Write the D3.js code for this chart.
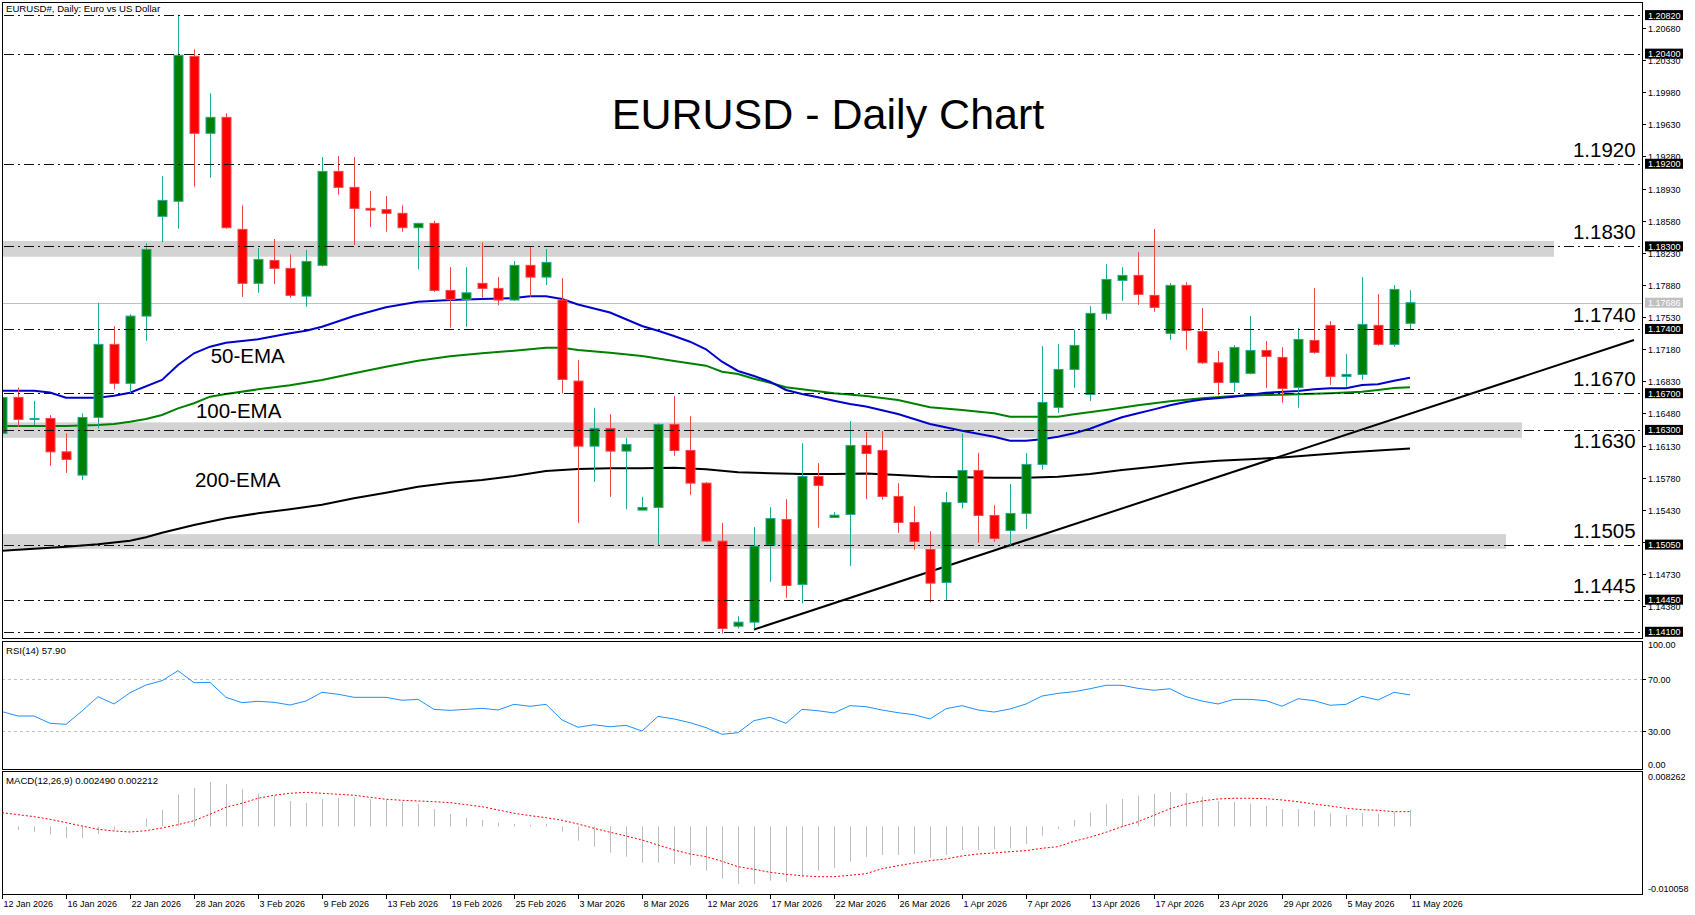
<!DOCTYPE html>
<html lang="en">
<head>
  <meta charset="UTF-8">
  <title>EURUSD - Daily Chart</title>
  <script src="https://cdnjs.cloudflare.com/ajax/libs/d3/7.8.5/d3.min.js"></script>
  <style>
    body { margin: 0; background: #fff; }
    svg { display: block; font-family: "Liberation Sans", Arial, sans-serif; }
    .frame { fill: none; stroke: #000; stroke-width: 1px; shape-rendering: crispEdges; }
    .level { stroke: #111; stroke-width: 1px; stroke-dasharray: 10,4,2,4; shape-rendering: crispEdges; }
    .axis-text { font-size: 9px; fill: #000; }
  </style>
</head>
<body>
<div id="chart"></div>
<script>
// ---- data ----
const dateLabels = ["12 Jan 2026", "16 Jan 2026", "22 Jan 2026", "28 Jan 2026", "3 Feb 2026", "9 Feb 2026",
  "13 Feb 2026", "19 Feb 2026", "25 Feb 2026", "3 Mar 2026", "8 Mar 2026", "12 Mar 2026", "17 Mar 2026",
  "22 Mar 2026", "26 Mar 2026", "1 Apr 2026", "7 Apr 2026", "13 Apr 2026", "17 Apr 2026", "23 Apr 2026",
  "29 Apr 2026", "5 May 2026", "11 May 2026"];

const opens = [1.16262, 1.16654, 1.16414, 1.16425, 1.16061, 1.15807, 1.16436, 1.17232, 1.16807, 1.17540,
  1.18627, 1.18791, 1.20371, 1.19532, 1.19706, 1.18485, 1.17897, 1.18147, 1.18060, 1.17758,
  1.18093, 1.19117, 1.18943, 1.18714, 1.18700, 1.18660, 1.18503, 1.18551, 1.17820, 1.17722,
  1.17897, 1.17842, 1.17715, 1.18093, 1.17965, 1.17715, 1.16832, 1.16123, 1.16316, 1.16069,
  1.15426, 1.15455, 1.16360, 1.16076, 1.15720, 1.15088, 1.14161, 1.14205, 1.15044, 1.15324,
  1.14616, 1.15793, 1.15346, 1.15379, 1.16131, 1.16076, 1.15575, 1.15291, 1.14997, 1.14638,
  1.15510, 1.15858, 1.15368, 1.15204, 1.15390, 1.15924, 1.16545, 1.16959, 1.16687, 1.17570,
  1.17929, 1.17984, 1.17766, 1.17352, 1.17875, 1.17373, 1.17031, 1.16817, 1.16916, 1.17166,
  1.17090, 1.16763, 1.17275, 1.17439, 1.16883, 1.16905, 1.17439, 1.17232, 1.17461];
const highs = [1.16700, 1.16763, 1.16617, 1.16461, 1.16262, 1.16480, 1.17685, 1.17431, 1.17562, 1.18333,
  1.19066, 1.20824, 1.20447, 1.19968, 1.19750, 1.18747, 1.18281, 1.18380, 1.18213, 1.18260,
  1.19273, 1.19284, 1.19273, 1.18903, 1.18848, 1.18747, 1.18555, 1.18579, 1.18074, 1.18074,
  1.18344, 1.17965, 1.18140, 1.18296, 1.18270, 1.17954, 1.17061, 1.16541, 1.16472, 1.16214,
  1.15571, 1.16370, 1.16668, 1.16450, 1.15730, 1.15287, 1.14270, 1.15240, 1.15458, 1.15545,
  1.16156, 1.15938, 1.15404, 1.16396, 1.16276, 1.16287, 1.15720, 1.15469, 1.15197, 1.15622,
  1.16262, 1.16047, 1.15480, 1.15709, 1.16047, 1.17213, 1.17235, 1.17391, 1.17649, 1.18107,
  1.18074, 1.18238, 1.18489, 1.17900, 1.17911, 1.17627, 1.17159, 1.17224, 1.17540, 1.17268,
  1.17202, 1.17409, 1.17845, 1.17486, 1.17126, 1.17965, 1.17780, 1.17878, 1.17823];
const lows = [1.16220, 1.16334, 1.16352, 1.15908, 1.15832, 1.15753, 1.16316, 1.16741, 1.16698, 1.17271,
  1.18344, 1.18493, 1.18950, 1.19048, 1.18493, 1.17750, 1.17794, 1.17890, 1.17740, 1.17642,
  1.18080, 1.18862, 1.18314, 1.18510, 1.18459, 1.18459, 1.18049, 1.17802, 1.17413, 1.17424,
  1.17740, 1.17657, 1.17704, 1.17750, 1.17878, 1.16698, 1.15287, 1.15734, 1.15571, 1.15436,
  1.15426, 1.15044, 1.16017, 1.15592, 1.15080, 1.14082, 1.14136, 1.14136, 1.14644, 1.14470,
  1.14409, 1.15233, 1.15346, 1.14818, 1.15545, 1.15538, 1.15178, 1.14993, 1.14420, 1.14445,
  1.15444, 1.15069, 1.15080, 1.15026, 1.15222, 1.15867, 1.16486, 1.16759, 1.16617, 1.17500,
  1.17707, 1.17663, 1.17587, 1.17282, 1.17173, 1.17020, 1.16676, 1.16712, 1.16905, 1.16759,
  1.16595, 1.16541, 1.17130, 1.16791, 1.16770, 1.16846, 1.17217, 1.17206, 1.17395];
const closes = [1.16654, 1.16414, 1.16425, 1.16061, 1.15978, 1.16436, 1.17232, 1.16807, 1.17540, 1.18267,
  1.18801, 1.20382, 1.19532, 1.19706, 1.18503, 1.17897, 1.18158, 1.18060, 1.17766, 1.18136,
  1.19117, 1.18943, 1.18714, 1.18695, 1.18660, 1.18503, 1.18551, 1.17820, 1.17722, 1.17794,
  1.17842, 1.17715, 1.18093, 1.17965, 1.18126, 1.16850, 1.16123, 1.16316, 1.16069, 1.16142,
  1.15455, 1.16360, 1.16076, 1.15720, 1.15088, 1.14136, 1.14205, 1.15033, 1.15335, 1.14605,
  1.15793, 1.15695, 1.15371, 1.16131, 1.16043, 1.15575, 1.15291, 1.15084, 1.14630, 1.15510,
  1.15858, 1.15368, 1.15117, 1.15390, 1.15924, 1.16600, 1.16959, 1.17221, 1.17570, 1.17940,
  1.17984, 1.17777, 1.17635, 1.17875, 1.17384, 1.17031, 1.16817, 1.17199, 1.17166, 1.17101,
  1.16752, 1.17286, 1.17145, 1.16883, 1.16905, 1.17450, 1.17232, 1.17831, 1.17686];

// moving averages, read as [bar, value]
const ema50 = [[0,1.16727],[2,1.16727],[3,1.16707],[4,1.16651],[6,1.16651],[7,1.16673],[8,1.16705],[10,1.16844],
  [11,1.17007],[12,1.17135],[13,1.17207],[14,1.1725],[16,1.17287],[18,1.17353],[19,1.17381],[20,1.17424],
  [22,1.17541],[24,1.17636],[26,1.17697],[28,1.17715],[30,1.17726],[32,1.17737],[33,1.17756],[34,1.17756],
  [35,1.17726],[36,1.17666],[38,1.17579],[40,1.17432],[41,1.17381],[42,1.17323],[43,1.17261],[44,1.17178],
  [45,1.17043],[46,1.16942],[47,1.16887],[48,1.16825],[49,1.16735],[50,1.16691],[51,1.16655],[52,1.16618],
  [53,1.16582],[54,1.16555],[56,1.16473],[58,1.16364],[60,1.16291],[62,1.16226],[63,1.16182],[64,1.16182],
  [65,1.16197],[66,1.16226],[67,1.16263],[68,1.16313],[69,1.16378],[70,1.16437],[71,1.16481],[72,1.16524],
  [73,1.16568],[74,1.16604],[75,1.16631],[77,1.16662],[79,1.16705],[81,1.16724],[82,1.16742],[83,1.16753],
  [84,1.16753],[85,1.16789],[86,1.16797],[87,1.16836],[88,1.16869]];
const ema100 = [[0,1.16342],[4,1.16342],[6,1.16353],[7,1.16364],[8,1.16389],[9,1.16419],[10,1.16462],
  [11,1.16535],[12,1.1659],[13,1.16662],[14,1.16691],[16,1.16742],[18,1.16786],[20,1.16844],[22,1.16917],
  [24,1.16989],[26,1.17054],[28,1.17102],[30,1.17135],[32,1.17163],[34,1.17196],[35,1.17196],[36,1.17171],
  [38,1.17141],[40,1.17105],[42,1.17051],[44,1.17],[45,1.16934],[46,1.16909],[47,1.16858],[48,1.16814],
  [49,1.16764],[50,1.16742],[52,1.16699],[54,1.16669],[56,1.16626],[58,1.16546],[60,1.16517],[62,1.16481],
  [63,1.16444],[65,1.16444],[66,1.16444],[67,1.1647],[69,1.16517],[71,1.16568],[73,1.16612],[75,1.16644],
  [77,1.16669],[79,1.1668],[81,1.16688],[83,1.16699],[85,1.16716],[86,1.16735],[87,1.16756],[88,1.16764]];
const ema200 = [[0,1.14984],[4,1.15027],[6,1.15053],[8,1.15093],[9,1.1513],[10,1.1518],[12,1.15264],
  [14,1.15337],[16,1.15391],[18,1.15435],[20,1.15485],[22,1.15555],[24,1.15616],[26,1.15681],[28,1.15725],
  [30,1.15754],[32,1.15798],[34,1.15852],[36,1.15874],[38,1.15881],[40,1.15881],[42,1.15888],[44,1.15871],
  [46,1.15838],[48,1.15827],[50,1.15819],[52,1.15819],[54,1.15825],[56,1.15808],[58,1.1579],[60,1.15783],
  [62,1.15779],[64,1.15779],[66,1.1579],[68,1.15819],[70,1.15863],[72,1.15899],[74,1.15936],[76,1.15964],
  [78,1.1598],[80,1.15999],[82,1.16026],[84,1.16054],[86,1.16075],[88,1.16097]];

const rsi = [44.8, 41.4, 41.4, 35.7, 34.9, 45.3, 56.5, 50.8, 59.6, 65.6,
  69.0, 76.8, 67.4, 67.7, 56.0, 51.8, 52.9, 52.1, 50.0, 53.1,
  59.9, 58.4, 56.0, 56.0, 56.0, 53.7, 54.4, 46.6, 45.8, 46.6,
  47.4, 46.1, 50.5, 49.0, 50.5, 38.3, 32.6, 34.6, 33.0, 34.1,
  29.7, 41.1, 39.1, 36.2, 32.3, 27.1, 28.4, 37.8, 40.4, 35.7,
  46.6, 45.5, 43.8, 49.5, 48.7, 46.1, 44.0, 42.4, 39.1, 47.1,
  49.5, 46.1, 44.5, 46.9, 50.8, 57.0, 59.1, 60.4, 62.7, 65.4,
  65.4, 63.0, 61.5, 62.7, 56.5, 53.1, 50.8, 54.4, 54.4, 53.4,
  49.0, 54.9, 53.4, 49.8, 50.5, 56.8, 53.9, 59.9, 57.9];

const macdHist = [-0.0001, -0.00052, -0.00082, -0.00122, -0.00171, -0.00171, -0.00112, -0.00052, 0.00005, 0.00116,
  0.00246, 0.00474, 0.00573, 0.00663, 0.00633, 0.00559, 0.00494, 0.00465, 0.0038, 0.0035,
  0.0041, 0.00424, 0.00435, 0.0041, 0.00395, 0.00365, 0.00335, 0.00261, 0.00186, 0.00127,
  0.00097, 0.00057, 0.00037, 0.00022, 0.00037, -0.00077, -0.00211, -0.00301, -0.0039, -0.00449,
  -0.00539, -0.00539, -0.00559, -0.00578, -0.00658, -0.00777, -0.00856, -0.00856, -0.00807, -0.00827,
  -0.00748, -0.00658, -0.00618, -0.00524, -0.00454, -0.00425, -0.00425, -0.0041, -0.00465, -0.00425,
  -0.0035, -0.0035, -0.00335, -0.00325, -0.00261, -0.00137, -0.00037, 0.00097, 0.00206, 0.00331,
  0.0041, 0.00459, 0.00484, 0.00514, 0.00499, 0.00444, 0.0038, 0.00365, 0.0034, 0.00305,
  0.00261, 0.00261, 0.00241, 0.00201, 0.00171, 0.00201, 0.00186, 0.0022, 0.00249];
const macdSignal = [0.00206, 0.00176, 0.00146, 0.00107, 0.00057, 0.00007, -0.00042, -0.00067, -0.00082, -0.00063,
  -0.00022, 0.00027, 0.00086, 0.00182, 0.00286, 0.00346, 0.0042, 0.00465, 0.00494, 0.00509,
  0.00494, 0.0048, 0.00465, 0.00435, 0.00405, 0.0039, 0.0038, 0.00369, 0.00355, 0.00325,
  0.00295, 0.00246, 0.00197, 0.00161, 0.00131, 0.00092, 0.00037, -0.00027, -0.00086, -0.00141,
  -0.00201, -0.00276, -0.0035, -0.00409, -0.0045, -0.00518, -0.00599, -0.00637, -0.00682, -0.00712,
  -0.00734, -0.00748, -0.00748, -0.00727, -0.00703, -0.00629, -0.00584, -0.00544, -0.00509, -0.00484,
  -0.00439, -0.0041, -0.00395, -0.00375, -0.0036, -0.00325, -0.00301, -0.0022, -0.00161, -0.00086,
  -0.00003, 0.00071, 0.00167, 0.00265, 0.00335, 0.0038, 0.0041, 0.0042, 0.0042, 0.00414,
  0.00395, 0.00369, 0.00335, 0.00305, 0.00271, 0.0025, 0.00241, 0.0022, 0.00221];

const levels = [1.2082, 1.2040, 1.1920, 1.1830, 1.1740, 1.1670, 1.1630, 1.1505, 1.1445, 1.1410];
const levelNotes = [1.1920, 1.1830, 1.1740, 1.1670, 1.1630, 1.1505, 1.1445];
// [low, high, last bar]
const zones = [[1.18187, 1.18358, 97], [1.16214, 1.16382, 95], [1.15004, 1.15164, 94]];
const trendLine = [[47, 1.14125], [102, 1.17279]];
const lastPrice = 1.17686;
const priceTicks = [1.20680, 1.20330, 1.19980, 1.19630, 1.19280, 1.18930, 1.18580, 1.18230, 1.17880,
  1.17530, 1.17180, 1.16830, 1.16480, 1.16130, 1.15780, 1.15430, 1.15080, 1.14730, 1.14380];
const rsiTicks = [70, 30];
const macdRange = [-0.010058, 0.008262];

// ---- layout ----
const width = 1695, height = 915;
const left = 2, right = 1642;
const mainP = { top: 2, bottom: 638 };
const rsiP = { top: 641, bottom: 769 };
const macdP = { top: 771, bottom: 894 };

const x = d3.scaleLinear().domain([0, 88]).range([2, 1410]);
const y = d3.scaleLinear().domain([1.1410, 1.2082]).range([631.8, 15.1]);
const yR = d3.scaleLinear().domain([0, 100]).range([rsiP.bottom, rsiP.top]);
const yM = d3.scaleLinear().domain(macdRange).range([macdP.bottom, macdP.top]);

const svg = d3.select("#chart").append("svg")
  .attr("width", width)
  .attr("height", height);

const defs = svg.append("defs");
[["clipMain", mainP], ["clipRsi", rsiP], ["clipMacd", macdP]].forEach(([id, p]) => {
  defs.append("clipPath").attr("id", id).append("rect")
    .attr("x", left).attr("y", p.top).attr("width", right - left).attr("height", p.bottom - p.top);
});

// ---- main price panel ----
const main = svg.append("g").attr("clip-path", "url(#clipMain)");

main.selectAll("rect.zone")
  .data(zones)
  .enter()
  .append("rect")
  .attr("class", "zone")
  .attr("x", left)
  .attr("y", d => y(d[1]))
  .attr("width", d => x(d[2]) - left)
  .attr("height", d => y(d[0]) - y(d[1]))
  .style("fill", "#d3d3d3");

main.append("line")
  .attr("x1", left).attr("x2", right)
  .attr("y1", Math.round(y(lastPrice)) + 0.5).attr("y2", Math.round(y(lastPrice)) + 0.5)
  .style("stroke", "#c0c0c0").style("stroke-width", 1);

const emaLine = d3.line().x(d => x(d[0])).y(d => y(d[1]));
[[ema200, "#000"], [ema100, "#008000"], [ema50, "#0000cd"]].forEach(([s, c]) => {
  main.append("path")
    .attr("d", emaLine(s))
    .style("fill", "none")
    .style("stroke", c)
    .style("stroke-width", 2);
});

main.append("path")
  .attr("d", emaLine(trendLine))
  .style("fill", "none")
  .style("stroke", "#000")
  .style("stroke-width", 2);

const bars = d3.range(opens.length).map(i => ({ i, o: opens[i], h: highs[i], l: lows[i], c: closes[i] }));

const candle = main.selectAll("g.candle")
  .data(bars)
  .enter()
  .append("g")
  .attr("class", "candle");

candle.append("line")
  .attr("x1", d => Math.round(x(d.i)) + 0.5)
  .attr("x2", d => Math.round(x(d.i)) + 0.5)
  .attr("y1", d => y(d.h))
  .attr("y2", d => y(d.l))
  .style("stroke", d => d.c >= d.o ? "#20a89c" : "#f04848")
  .style("stroke-width", 1);

candle.append("rect")
  .attr("x", d => Math.round(x(d.i)) - 4)
  .attr("y", d => Math.min(y(d.o), y(d.c)))
  .attr("width", 9)
  .attr("height", d => Math.max(1, Math.abs(y(d.o) - y(d.c))))
  .style("fill", d => d.c >= d.o ? "#008000" : "#ff0000")
  .style("stroke", d => d.c >= d.o ? "#20a89c" : "#f04848")
  .style("stroke-width", 1);

main.selectAll("line.level")
  .data(levels)
  .enter()
  .append("line")
  .attr("class", "level")
  .attr("x1", 4).attr("x2", right)
  .attr("y1", d => Math.round(y(d)) + 0.5)
  .attr("y2", d => Math.round(y(d)) + 0.5);

main.selectAll("text.note")
  .data(levelNotes)
  .enter()
  .append("text")
  .attr("class", "note")
  .attr("x", x(102.1))
  .attr("y", d => d === 1.1630 ? y(d) + 18 : y(d) - 7)
  .attr("text-anchor", "end")
  .style("font-size", "20.5px")
  .text(d => d.toFixed(4));

// cut-off label peeking at the bottom edge
main.append("text")
  .attr("x", x(80.8)).attr("y", y(1.1410) + 20)
  .attr("text-anchor", "end")
  .style("font-size", "20.5px")
  .text("1.1410");

const emaNotes = [["50-EMA", 13.04, 1.17032], ["100-EMA", 12.12, 1.16426], ["200-EMA", 12.06, 1.15674]];
main.selectAll("text.ema")
  .data(emaNotes)
  .enter()
  .append("text")
  .attr("class", "ema")
  .attr("x", d => x(d[1]))
  .attr("y", d => y(d[2]))
  .style("font-size", "20.5px")
  .text(d => d[0]);

svg.append("text")
  .attr("x", 828).attr("y", 129)
  .attr("text-anchor", "middle")
  .style("font-size", "43px")
  .text("EURUSD - Daily Chart");

svg.append("text")
  .attr("x", 6).attr("y", 12)
  .style("font-size", "9.6px")
  .text("EURUSD#, Daily:  Euro vs US Dollar");

// ---- RSI panel ----
const rsiG = svg.append("g").attr("clip-path", "url(#clipRsi)");
rsiG.selectAll("line.rl")
  .data(rsiTicks)
  .enter()
  .append("line")
  .attr("x1", left).attr("x2", right)
  .attr("y1", d => Math.round(yR(d)) + 0.5).attr("y2", d => Math.round(yR(d)) + 0.5)
  .style("stroke", "#c0c0c0").style("stroke-dasharray", "3,3");
rsiG.append("path")
  .attr("d", d3.line().x((d, i) => x(i)).y(d => yR(d))(rsi))
  .style("fill", "none").style("stroke", "#1e90ff").style("stroke-width", 1);
svg.append("text").attr("x", 6).attr("y", 654).style("font-size", "9.6px").text("RSI(14) 57.90");

// ---- MACD panel ----
const macdG = svg.append("g").attr("clip-path", "url(#clipMacd)");
macdG.selectAll("line.hist")
  .data(macdHist)
  .enter()
  .append("line")
  .attr("x1", (d, i) => Math.round(x(i)) + 0.5)
  .attr("x2", (d, i) => Math.round(x(i)) + 0.5)
  .attr("y1", yM(0))
  .attr("y2", d => yM(d))
  .style("stroke", "#bdbdbd").style("stroke-width", 1);
macdG.append("path")
  .attr("d", d3.line().x((d, i) => x(i)).y(d => yM(d))(macdSignal))
  .style("fill", "none").style("stroke", "#ff0000").style("stroke-width", 1)
  .style("stroke-dasharray", "2,2");
svg.append("text").attr("x", 6).attr("y", 784).style("font-size", "9.6px")
  .text("MACD(12,26,9) 0.002490 0.002212");

// ---- frames ----
[mainP, rsiP, macdP].forEach(p => {
  svg.append("rect").attr("class", "frame")
    .attr("x", left + 0.5).attr("y", p.top + 0.5)
    .attr("width", right - left).attr("height", p.bottom - p.top);
});

// ---- right price axis ----
const axisG = svg.append("g");
axisG.selectAll("g.pt")
  .data(priceTicks)
  .enter()
  .append("g")
  .each(function (d) {
    const g = d3.select(this);
    const yy = Math.round(y(d)) + 0.5;
    g.append("line").attr("x1", right).attr("x2", right + 4).attr("y1", yy).attr("y2", yy).style("stroke", "#000");
    g.append("text").attr("class", "axis-text").attr("x", right + 6).attr("y", yy + 3.5).text(d.toFixed(5));
  });

const tagged = levels.map(v => ({ v, bg: "#000" })).concat([{ v: lastPrice, bg: "#c0c0c0" }]);
axisG.selectAll("g.tag")
  .data(tagged)
  .enter()
  .append("g")
  .each(function (d) {
    const g = d3.select(this);
    const yy = y(d.v);
    g.append("rect").attr("x", right + 3).attr("y", yy - 5).attr("width", 38).attr("height", 10).style("fill", d.bg);
    g.append("text").attr("class", "axis-text").attr("x", right + 6).attr("y", yy + 3.5)
      .style("fill", "#fff").text(d.v.toFixed(5));
  });

// RSI axis
[[100, 0, 6], [70, 1, 3.5], [30, 1, 3.5], [0, 0, -1.5]].forEach(([v, tick, dy]) => {
  const yy = Math.round(yR(v)) + 0.5;
  if (tick) axisG.append("line").attr("x1", right).attr("x2", right + 4).attr("y1", yy).attr("y2", yy).style("stroke", "#000");
  axisG.append("text").attr("class", "axis-text").attr("x", right + 6).attr("y", yy + dy).text(v.toFixed(2));
});
// MACD axis
axisG.append("text").attr("class", "axis-text").attr("x", right + 6).attr("y", yM(macdRange[1]) + 9).text("0.008262");
axisG.append("text").attr("class", "axis-text").attr("x", right + 6).attr("y", yM(macdRange[0]) - 2).text("-0.010058");

// ---- time axis ----
const timeG = svg.append("g");
timeG.selectAll("g.dt")
  .data(dateLabels)
  .enter()
  .append("g")
  .each(function (d, i) {
    const g = d3.select(this);
    const xx = Math.round(x(i * 4)) + 0.5;
    g.append("line").attr("x1", xx).attr("x2", xx).attr("y1", macdP.bottom).attr("y2", macdP.bottom + 5).style("stroke", "#000");
    g.append("text").attr("class", "axis-text").attr("x", xx + 1).attr("y", 907).text(d);
  });
</script>
</body>
</html>
